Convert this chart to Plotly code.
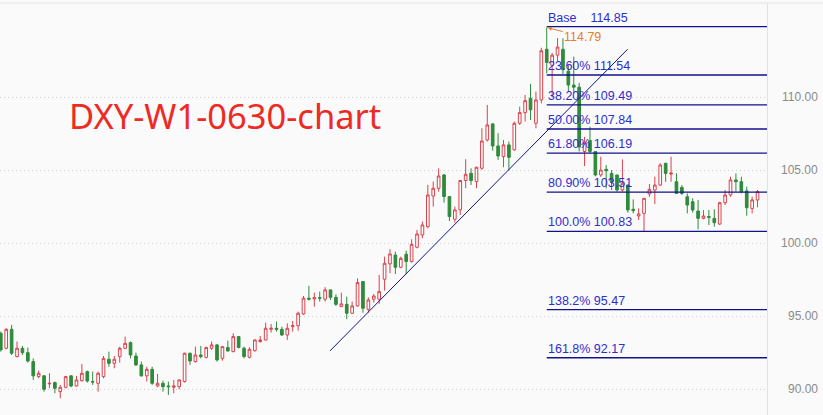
import plotly.graph_objects as go

# Weekly DXY candles (index = week number)
opens = [93.85, 92.82, 94.12, 92.25, 92.82, 92.52, 91.91, 90.88, 90.93, 90.38,
         90.47, 89.85, 90.15, 90.93, 90.24, 90.60, 91.22, 90.54, 90.42, 90.88,
         92.07, 91.79, 92.25, 92.82, 93.21, 92.29, 91.68, 90.93, 91.38, 90.24,
         90.42, 90.24, 90.15, 90.19, 90.54, 92.48, 91.91, 92.36, 92.20, 92.82,
         93.05, 92.13, 92.87, 92.59, 93.62, 92.82, 92.20, 92.66, 93.28, 93.39,
         94.12, 94.19, 94.12, 93.73, 94.30, 94.37, 95.17, 96.25, 96.20, 96.29,
         96.18, 96.82, 96.31, 95.67, 95.83, 95.22, 95.72, 97.39, 95.49, 96.18,
         96.18, 97.55, 98.60, 99.21, 98.37, 99.26, 98.76, 99.74, 100.58, 101.15,
         103.25, 103.78, 104.69, 103.21, 101.66, 102.30, 104.31, 104.81, 104.24, 105.15,
         107.09, 108.19, 106.68, 105.95, 106.75, 106.41, 108.23, 108.96, 109.94, 108.23,
         109.83, 113.30, 112.20, 112.90, 113.30, 111.80, 110.85, 110.70, 106.30, 107.05,
         106.29, 104.69, 105.08, 104.80, 104.69, 103.66, 104.00, 102.34, 101.88, 102.06,
         103.39, 103.66, 104.00, 105.49, 104.75, 104.23, 103.84, 103.20, 102.86, 102.22,
         101.72, 101.84, 101.72, 101.33, 102.79, 103.32, 104.35, 104.23, 103.60, 102.40,
         102.98]
highs = [93.96, 94.19, 94.42, 93.28, 92.98, 92.87, 92.13, 91.29, 90.99, 91.11,
         90.54, 90.31, 90.93, 90.99, 90.93, 91.75, 91.29, 91.22, 91.22, 92.29,
         92.59, 92.29, 92.93, 93.62, 93.28, 92.52, 91.91, 91.56, 91.56, 91.06,
         90.60, 90.54, 90.65, 90.70, 92.52, 92.52, 92.93, 92.98, 92.93, 93.28,
         93.12, 92.98, 93.34, 93.85, 93.66, 92.93, 92.89, 93.44, 93.66, 94.58,
         94.49, 94.65, 94.30, 94.53, 94.69, 95.33, 96.40, 97.09, 96.63, 96.70,
         97.00, 96.85, 96.52, 96.63, 96.36, 96.02, 97.61, 97.43, 96.31, 96.54,
         97.84, 99.10, 99.60, 99.44, 99.10, 99.51, 100.29, 100.93, 101.50, 104.01,
         104.24, 105.15, 104.76, 103.25, 102.52, 104.35, 105.77, 105.15, 105.26, 107.89,
         109.49, 108.23, 107.55, 107.09, 106.98, 108.35, 109.37, 110.17, 110.93, 110.40,
         113.40, 114.79, 113.05, 114.07, 114.05, 112.20, 112.80, 111.00, 107.30, 108.00,
         106.30, 105.94, 105.37, 105.03, 104.70, 105.76, 104.05, 103.02, 102.40, 103.10,
         104.07, 104.57, 105.49, 105.53, 105.94, 104.80, 104.00, 103.43, 103.09, 102.98,
         102.29, 102.29, 102.34, 102.86, 103.66, 104.57, 104.80, 104.57, 103.89, 103.20,
         103.66]
lows = [92.59, 92.75, 92.36, 92.20, 92.36, 91.84, 90.65, 90.77, 89.85, 90.08,
        89.74, 89.40, 90.08, 90.15, 90.19, 90.54, 90.47, 90.31, 89.85, 90.77,
        91.56, 91.45, 91.84, 92.75, 92.13, 91.61, 90.88, 90.54, 90.31, 90.15,
        89.85, 89.62, 89.74, 90.01, 90.47, 91.68, 91.84, 92.13, 92.13, 92.71,
        91.91, 91.97, 92.59, 92.55, 92.82, 92.13, 92.13, 92.59, 93.21, 93.35,
        93.89, 93.96, 93.67, 93.39, 93.96, 94.03, 95.10, 96.09, 95.67, 96.02,
        96.02, 96.13, 95.72, 95.65, 94.81, 95.17, 95.67, 95.26, 95.26, 95.95,
        95.86, 96.77, 97.96, 97.91, 98.30, 97.89, 98.69, 99.67, 100.36, 101.04,
        102.52, 103.55, 102.80, 101.54, 101.43, 101.95, 103.78, 104.01, 103.78, 105.04,
        106.98, 106.36, 105.72, 105.22, 105.00, 106.36, 108.12, 108.35, 108.46, 107.89,
        109.60, 111.65, 110.00, 112.50, 111.60, 110.40, 110.30, 106.30, 105.30, 106.20,
        104.60, 104.56, 103.77, 103.66, 103.55, 103.55, 102.11, 102.06, 101.61, 100.83,
        103.20, 102.70, 103.95, 104.23, 104.23, 103.43, 103.32, 102.06, 102.11, 100.97,
        101.65, 101.26, 101.15, 101.26, 102.63, 103.20, 103.55, 103.43, 101.90, 102.06,
        102.47]
closes = [92.71, 94.12, 92.48, 92.82, 92.52, 91.95, 90.93, 91.11, 90.01, 90.42,
          90.08, 90.15, 90.88, 90.24, 90.65, 91.11, 90.58, 90.51, 91.11, 92.13,
          91.79, 92.07, 92.82, 93.16, 92.36, 91.68, 90.93, 91.38, 90.42, 90.42,
          90.19, 90.19, 90.24, 90.65, 92.48, 91.95, 92.36, 92.25, 92.87, 93.05,
          92.02, 92.93, 92.64, 93.62, 92.87, 92.25, 92.75, 93.39, 93.39, 94.19,
          94.19, 94.12, 93.73, 94.19, 94.37, 95.22, 96.25, 96.18, 96.29, 96.25,
          96.82, 96.31, 95.83, 95.86, 95.22, 95.72, 97.32, 95.56, 96.13, 96.40,
          96.70, 98.64, 99.28, 98.37, 98.98, 98.76, 99.94, 100.65, 101.27, 103.32,
          103.78, 104.62, 103.21, 101.84, 102.30, 104.31, 104.74, 104.31, 105.22, 107.02,
          108.12, 106.68, 105.99, 106.75, 105.90, 108.23, 108.96, 109.78, 109.15, 109.83,
          113.20, 112.40, 112.90, 113.45, 111.90, 110.85, 110.70, 106.60, 106.90, 106.30,
          104.69, 105.03, 104.98, 104.23, 103.66, 104.12, 102.29, 102.25, 102.02, 103.09,
          103.71, 104.00, 105.37, 104.80, 104.82, 103.43, 103.43, 102.63, 102.29, 101.72,
          101.88, 101.79, 101.42, 102.79, 103.32, 104.35, 104.23, 103.55, 102.45, 102.98,
          103.55]
weeks = list(range(len(opens)))

# Fibonacci retracement levels (drawn from the peak week to the right edge)
fib_labels = ["Base\u00a0\u00a0\u00a0\u00a0114.85", "23.60% 111.54", "38.20% 109.49", "50.00% 107.84",
              "61.80% 106.19", "80.90% 103.51", "100.0% 100.83", "138.2% 95.47", "161.8% 92.17"]
fib_values = [114.85, 111.54, 109.49, 107.84, 106.19, 103.51, 100.83, 95.47, 92.17]
fib_start_week = 101

# Peak marker
peak_week = 101
peak_value = 114.79

# Trendline endpoints (week, value)
trend_x = [60.9, 115.95]
trend_y = [92.64, 113.30]

# Right axis ticks
y_ticks = [90, 95, 100, 105, 110]
y_tick_labels = ["90.00", "95.00", "100.00", "105.00", "110.00"]

title_text = "DXY-W1-0630-chart"

X_RANGE = [-0.15, 141.75]
Y_RANGE = [88.25, 116.47]

RED = "#d9434d"
GREEN = "#2e8b3c"
NAVY = "#12128c"
FIBTXT = "#2e2ecf"
ORANGE = "#e67e2a"
BG = "#fafafa"

fig = go.Figure()
fig.add_trace(go.Candlestick(
    x=weeks, open=opens, high=highs, low=lows, close=closes,
    increasing=dict(line=dict(color=RED, width=1), fillcolor="#ffffff"),
    decreasing=dict(line=dict(color=GREEN, width=1), fillcolor=GREEN),
    whiskerwidth=0, showlegend=False, hoverinfo="skip",
))

fig.add_trace(go.Scatter(x=trend_x, y=trend_y, mode="lines",
                         line=dict(color=NAVY, width=1), showlegend=False, hoverinfo="skip"))

shapes = []
annotations = []
for lab, val in zip(fib_labels, fib_values):
    shapes.append(dict(type="line", xref="x", yref="y", x0=fib_start_week, x1=X_RANGE[1],
                       y0=val, y1=val, line=dict(color=NAVY, width=1.3), layer="above"))
    annotations.append(dict(x=fib_start_week, y=val, xref="x", yref="y", text=lab,
                            showarrow=False, xanchor="left", yanchor="bottom",
                            font=dict(family="Liberation Sans, Arial", size=12.5, color=FIBTXT),
                            borderpad=0, yshift=1))

annotations.append(dict(x=peak_week, y=peak_value, xref="x", yref="y", text=f"{peak_value:.2f}",
                        showarrow=True, ax=36, ay=9, arrowhead=2, arrowsize=0.8, arrowwidth=1,
                        arrowcolor=ORANGE, standoff=1,
                        font=dict(family="Liberation Sans, Arial", size=12.5, color=ORANGE)))

for v, t in zip(y_ticks, y_tick_labels):
    annotations.append(dict(x=1, y=v, xref="paper", yref="y", text=t, showarrow=False,
                            xanchor="right", yanchor="middle", xshift=53,
                            font=dict(family="Liberation Sans, Arial", size=12, color="#8a8a8a")))

annotations.append(dict(x=225 / 767, y=1 - (115 - 3) / 412, xref="paper", yref="paper", text=title_text,
                        showarrow=False, xanchor="center", yanchor="middle",
                        font=dict(family="Noto Sans, Open Sans, sans-serif", size=34.5, color="#ee2a24")))

shapes.append(dict(type="line", xref="paper", yref="paper", x0=0, x1=823 / 767, y0=1, y1=1,
                   line=dict(color="#e4e4e4", width=1)))

fig.update_layout(
    width=823, height=415,
    margin=dict(l=0, r=56, t=3, b=0),
    paper_bgcolor=BG, plot_bgcolor=BG,
    xaxis=dict(range=X_RANGE, visible=False, rangeslider=dict(visible=False), fixedrange=True),
    yaxis=dict(range=Y_RANGE, side="right", tickvals=y_ticks, showticklabels=False,
               showgrid=True, gridcolor="#cfcfcf", griddash="1px,3px", gridwidth=1,
               zeroline=False, showline=True, linecolor="#e2e2e2", ticks="", fixedrange=True),
    shapes=shapes, annotations=annotations,
    showlegend=False,
    hovermode=False,
)

fig.write_html("out.html",
               config={"displayModeBar": False, "staticPlot": True},
               post_script="document.body.style.margin='0';document.body.style.padding='0';"
                           "document.body.style.overflow='hidden';"
                           "document.body.style.background='#fafafa';")
